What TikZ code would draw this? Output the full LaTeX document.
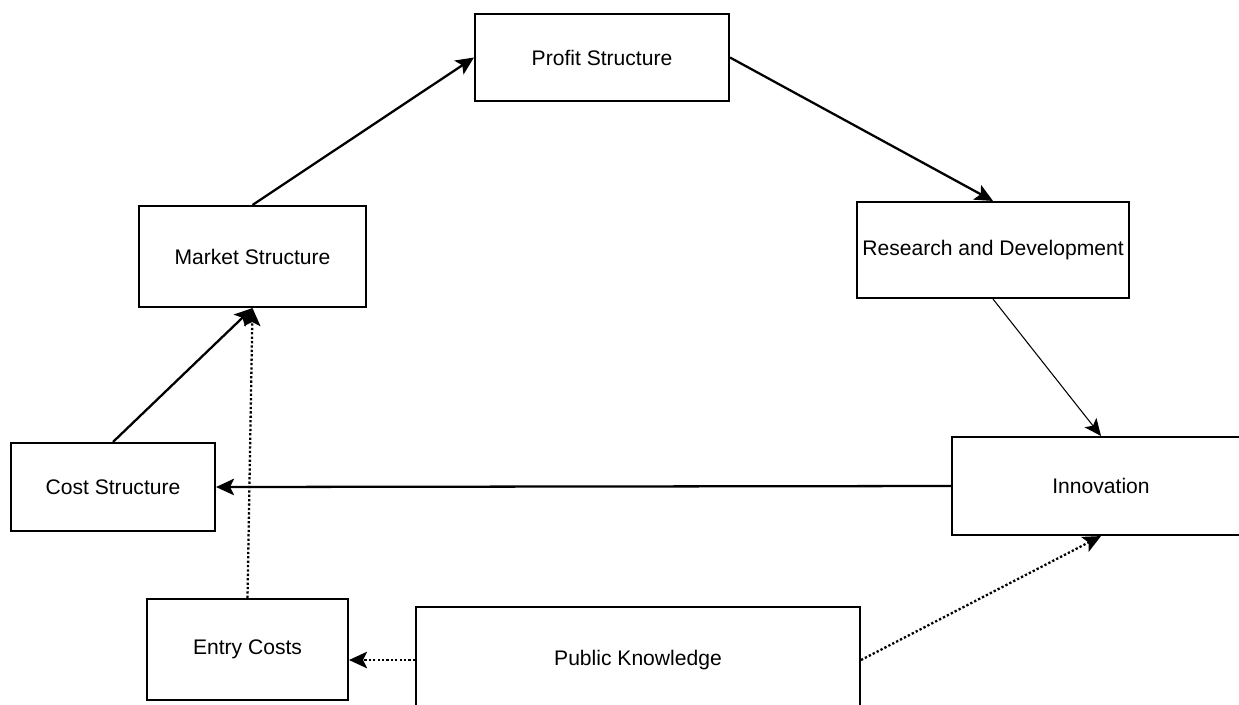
\documentclass[tikz,border=0pt]{standalone}
\usepackage{fontspec}
\setmainfont{Liberation Sans}
\usetikzlibrary{arrows.meta}
\tikzset{%
  block/.style    = {draw, line width=1.2pt, rectangle, inner sep=0pt,
    font=\fontsize{12}{14}\selectfont},
  link/.style     = {line width=1.3pt, -{Stealth[length=3.6mm, width=3.3mm, inset=0.8mm]}},
  thinlink/.style = {line width=0.6pt, -{Stealth[length=3.4mm, width=3mm, inset=0.8mm]}},
  dotlink/.style  = {link, dash pattern=on 1.3pt off 1.2pt}
}
\begin{document}
\begin{tikzpicture}[x=0.02cm, y=-0.02cm]
    \useasboundingbox (0, 0) rectangle (1239, 704);
    \clip (0, 0) rectangle (1239, 704);

    %profit
    \node[block, minimum width=5.08cm, minimum height=1.74cm] (profit) at (602, 57.5) {Profit Structure};
    %market
    \node[block, minimum width=4.54cm, minimum height=2.02cm] (market) at (252.5, 256.5) {Market Structure};
    %research
    \node[block, minimum width=5.44cm, minimum height=1.92cm] (rnd) at (993, 250) {Research and Development};
    %innovation
    \node[block, minimum width=5.96cm, minimum height=1.96cm] (innov) at (1101, 486) {Innovation};
    %cost
    \node[block, minimum width=4.08cm, minimum height=1.76cm] (cost) at (113, 487) {Cost Structure};
    %entry
    \node[block, minimum width=4.02cm, minimum height=2.02cm] (entry) at (247.5, 649.5) {Entry Costs};
    %public
    \node[block, minimum width=8.88cm, minimum height=2.12cm] (public) at (638, 660) {Public Knowledge};

    %cycle
    \draw[link] (market.north) -- (profit.west);
    \draw[link] (profit.east) -- (rnd.north);
    \draw[thinlink] (rnd.south) -- (innov.north);
    \draw[link] (innov.west) -- (cost.east);
    \draw[link] (cost.north) -- (market.south);

    %dotted
    \draw[dotlink] (entry.north) -- (market.south);
    \draw[dotlink] (public.west) -- (public.west -| entry.east);
    \draw[dotlink] (public.east) -- (innov.south);
\end{tikzpicture}
\end{document}
